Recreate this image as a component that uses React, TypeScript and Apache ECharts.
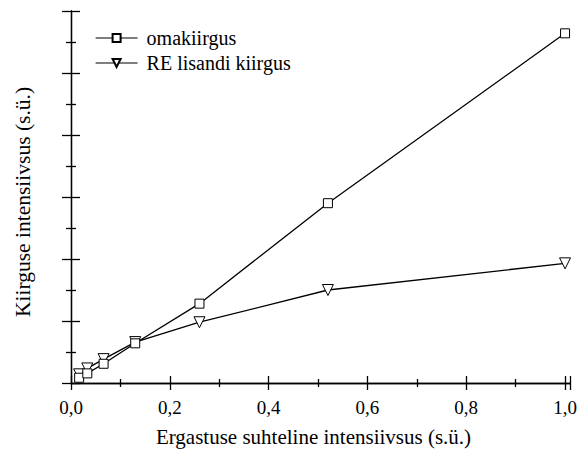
import React, { useEffect, useRef } from "react";
import * as echarts from "echarts";

const xValues = [0.0165, 0.033, 0.066, 0.13, 0.26, 0.52, 1.0];
const omakiirgus = [0.085, 0.155, 0.31, 0.64, 1.28, 2.9, 5.64];
const reLisandi = [0.14, 0.235, 0.385, 0.66, 0.98, 1.5, 1.93];
const seriesNames = ["omakiirgus", "RE lisandi kiirgus"];
const xTitle = "Ergastuse suhteline intensiivsus (s.ü.)";
const yTitle = "Kiirguse intensiivsus (s.ü.)";

const FONT = "Liberation Serif";

export default function App() {
  const ref = useRef<HTMLDivElement>(null);
  useEffect(() => {
    if (!ref.current) return;
    const chart = echarts.init(ref.current, undefined, { renderer: "svg" });
    const lineStyle = { color: "#000", width: 1.3 };
    const fmt = (v: number) => {
      const r = Math.round(v * 10);
      if (Math.abs(v * 10 - r) > 1e-6) return "";
      if (r % 2 !== 0) return "";
      return (r / 10).toFixed(1).replace(".", ",");
    };
    const xBase = {
      type: "value",
      min: 0,
      max: 1.01,
      interval: 0.2,
      axisLine: { show: true, lineStyle },
      axisTick: { show: true, inside: false, length: 7, lineStyle },
      minorTick: { show: true, splitNumber: 2, length: 4, lineStyle },
      splitLine: { show: false },
      minorSplitLine: { show: false },
    };
    const yBase = {
      type: "value",
      min: 0,
      max: 6,
      interval: 1,
      axisLine: { show: true, lineStyle },
      axisTick: { show: true, inside: false, length: 9, lineStyle },
      minorTick: { show: true, splitNumber: 2, length: 5, lineStyle },
      splitLine: { show: false },
      minorSplitLine: { show: false },
      axisLabel: { show: false },
    };
    chart.setOption({
      animation: false,
      backgroundColor: "#fff",
      textStyle: { fontFamily: FONT, color: "#000" },
      grid: { left: 71, top: 11, right: 11, bottom: 69, containLabel: false },
      legend: {
        orient: "vertical",
        left: 90,
        top: 23,
        itemWidth: 42,
        itemHeight: 10,
        itemGap: 5,
        lineStyle: { width: 1.2 },
        textStyle: {
          fontFamily: FONT,
          fontSize: 20,
          color: "#000",
          padding: [0, 0, 0, 4],
        },
        data: seriesNames,
      },
      xAxis: [
        {
          ...xBase,
          position: "bottom",
          name: xTitle,
          nameLocation: "middle",
          nameGap: 43,
          nameTextStyle: {
            fontFamily: FONT,
            fontSize: 21,
            color: "#000",
            padding: [0, 14, 0, 0],
          },
          axisLabel: {
            show: true,
            margin: 15,
            fontFamily: FONT,
            fontSize: 19,
            color: "#000",
            formatter: fmt,
          },
        },
        {
          ...xBase,
          position: "top",
          axisLabel: { show: false },
        },
      ],
      yAxis: [
        {
          ...yBase,
          position: "left",
          name: yTitle,
          nameLocation: "middle",
          nameGap: 37,
          nameRotate: 90,
          nameTextStyle: {
            fontFamily: FONT,
            fontSize: 21.5,
            color: "#000",
            padding: [0, 10, 0, 0],
          },
        },
        {
          ...yBase,
          position: "right",
        },
      ],
      series: [
        {
          name: seriesNames[0],
          type: "line",
          data: xValues.map((x, i) => [x, omakiirgus[i]]),
          symbol: "rect",
          symbolSize: 9,
          lineStyle: { color: "#000", width: 1.3 },
          itemStyle: { color: "#fff", borderColor: "#000", borderWidth: 1 },
          z: 3,
        },
        {
          name: seriesNames[1],
          type: "line",
          data: xValues.map((x, i) => [x, reLisandi[i]]),
          symbol: "triangle",
          symbolRotate: 180,
          symbolSize: 11,
          lineStyle: { color: "#000", width: 1.3 },
          itemStyle: { color: "#fff", borderColor: "#000", borderWidth: 1 },
          z: 2,
        },
      ],
    });
    return () => chart.dispose();
  }, []);
  return (
    <div
      ref={ref}
      style={{ position: "fixed", left: 0, top: 0, width: 581, height: 452 }}
    />
  );
}
